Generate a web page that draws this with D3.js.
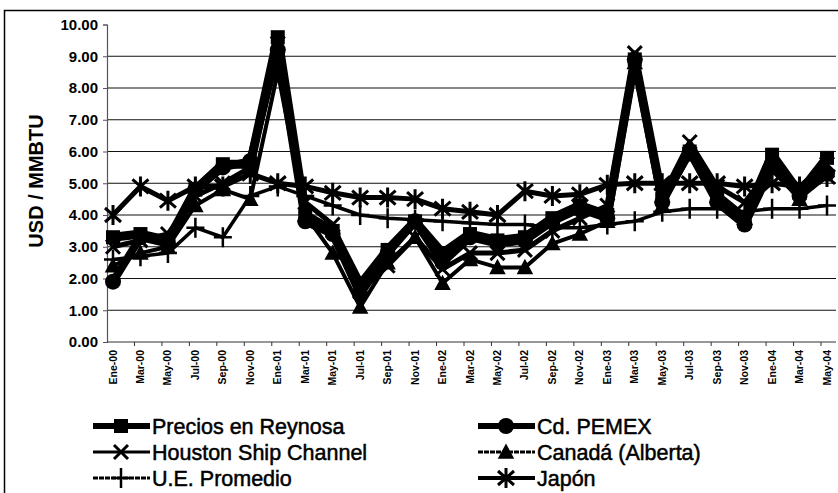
<!DOCTYPE html>
<html>
<head>
<meta charset="utf-8">
<script src="https://cdn.jsdelivr.net/npm/d3@7/dist/d3.min.js"></script>
<style>
  html, body { margin: 0; padding: 0; background: #fff; }
  svg { display: block; }
  text { font-family: "Liberation Sans", Arial, sans-serif; fill: #000; }
</style>
</head>
<body>
<svg id="chart" width="838" height="493"></svg>
<script>
// Bi-monthly categories, Ene-00 .. May-04
const months = ["Ene-00","Mar-00","May-00","Jul-00","Sep-00","Nov-00",
  "Ene-01","Mar-01","May-01","Jul-01","Sep-01","Nov-01",
  "Ene-02","Mar-02","May-02","Jul-02","Sep-02","Nov-02",
  "Ene-03","Mar-03","May-03","Jul-03","Sep-03","Nov-03",
  "Ene-04","Mar-04","May-04"];

// Natural gas prices, USD / MMBTU
const reynosa = [3.3, 3.4, 3.2, 4.8, 5.6, 5.6, 9.6, 4.0, 3.5, 1.8, 2.9, 3.8, 2.8, 3.4, 3.2, 3.3, 3.9, 4.3, 4.0, 8.9, 4.5, 6.0, 4.6, 3.9, 5.9, 4.7, 5.8];
const pemex   = [1.9, 3.3, 3.1, 4.8, 5.5, 5.7, 9.2, 3.8, 3.4, 1.5, 2.8, 3.8, 2.5, 3.3, 3.1, 3.2, 3.8, 4.2, 3.9, 8.9, 4.4, 6.0, 4.4, 3.7, 5.5, 4.6, 5.3];
const houston = [3.0, 3.2, 3.4, 4.6, 5.0, 5.5, 9.4, 4.4, 3.7, 1.6, 2.4, 3.3, 2.3, 2.8, 2.8, 2.9, 3.5, 3.9, 4.3, 9.1, 4.6, 6.3, 4.9, 4.4, 5.5, 4.9, 5.6];
const canada  = [2.4, 2.8, 3.0, 4.3, 4.8, 4.5, 8.5, 4.0, 2.8, 1.1, 2.5, 3.3, 1.85, 2.6, 2.35, 2.35, 3.1, 3.4, 3.8, 8.8, 4.3, 5.9, 4.6, 3.9, 5.5, 4.5, 5.4];
const ue      = [2.6, 2.7, 2.8, 3.6, 3.3, 4.6, 4.9, 4.6, 4.3, 4.0, 3.9, 3.85, 3.8, 3.75, 3.7, 3.7, 3.6, 3.6, 3.7, 3.8, 4.1, 4.2, 4.2, 4.1, 4.2, 4.2, 4.3];
const japon   = [4.0, 4.9, 4.45, 4.9, 4.9, 5.3, 5.0, 4.9, 4.7, 4.55, 4.55, 4.5, 4.2, 4.1, 4.0, 4.75, 4.6, 4.65, 4.95, 5.0, 5.0, 5.0, 5.0, 4.9, 5.0, 4.9, 5.2];

const yTicks = [0, 1, 2, 3, 4, 5, 6, 7, 8, 9, 10];

const seriesNames = ["Precios en Reynosa", "Cd. PEMEX", "Houston Ship Channel",
  "Canadá (Alberta)", "U.E. Promedio", "Japón"];

const svg = d3.select("#chart");

// Outer chart frame
svg.append("path").attr("d", "M4.5,493 V10.5 H838")
  .attr("fill", "none").attr("stroke", "#000").attr("stroke-width", 1.5);

const plot = { left: 107, right: 836, top: 24.5, bottom: 342 };

const x = d3.scalePoint().domain(months).range([113, 827]);
const y = d3.scaleLinear().domain([0, 10]).range([plot.bottom, plot.top]);

// Horizontal gridlines (none at the top value)
svg.append("g").selectAll("line").data(yTicks.filter(d => d > 0 && d < 10)).join("line")
  .attr("x1", plot.left).attr("x2", plot.right)
  .attr("y1", d => y(d)).attr("y2", d => y(d))
  .attr("stroke", "#111").attr("stroke-width", 1.2);

// Y axis
const yAxis = svg.append("g").attr("transform", `translate(${plot.left},0)`)
  .call(d3.axisLeft(y).tickValues(yTicks).tickFormat(d3.format(".2f")).tickSize(4).tickPadding(5));
yAxis.select(".domain").attr("stroke", "#555").attr("stroke-width", 1.2);
yAxis.selectAll(".tick line").attr("stroke", "#555");
yAxis.selectAll("text").attr("font-size", 15).attr("font-weight", "bold")
  .style("font-family", "'Liberation Sans', Arial, sans-serif");

// X axis baseline and ticks
const step = x.step();
svg.append("line").attr("x1", plot.left).attr("x2", plot.right)
  .attr("y1", plot.bottom).attr("y2", plot.bottom)
  .attr("stroke", "#333").attr("stroke-width", 1.2);
svg.append("g").selectAll("line").data(months).join("line")
  .attr("x1", d => x(d) - 6 + step).attr("x2", d => x(d) - 6 + step)
  .attr("y1", plot.bottom).attr("y2", plot.bottom + 4)
  .attr("stroke", "#333");

// Rotated category labels
svg.append("g").selectAll("text").data(months).join("text")
  .attr("transform", d => `translate(${x(d) + 3.5},${plot.bottom + 8}) rotate(-90)`)
  .attr("text-anchor", "end")
  .attr("font-size", 10.5).attr("font-weight", "bold")
  .text(d => d);

// Y axis title
svg.append("text")
  .attr("transform", "translate(43,181) rotate(-90)")
  .attr("text-anchor", "middle")
  .attr("font-size", 20).attr("font-weight", "bold")
  .text("USD / MMBTU");

// Marker shapes
function drawMarker(g, kind, cx, cy) {
  if (kind === "square") {
    g.append("rect").attr("x", cx - 7).attr("y", cy - 7).attr("width", 14).attr("height", 14).attr("fill", "#000");
  } else if (kind === "circle") {
    g.append("circle").attr("cx", cx).attr("cy", cy).attr("r", 8).attr("fill", "#000");
  } else if (kind === "x") {
    g.append("path").attr("d", `M${cx-7},${cy-7}L${cx+7},${cy+7}M${cx-7},${cy+7}L${cx+7},${cy-7}`)
      .attr("stroke", "#000").attr("stroke-width", 3).attr("fill", "none");
  } else if (kind === "triangle") {
    g.append("path").attr("d", `M${cx},${cy-7}L${cx+7},${cy+6}L${cx-7},${cy+6}Z`)
      .attr("fill", "#000").attr("stroke", "#000").attr("stroke-width", 1.5);
  } else if (kind === "plus") {
    g.append("path").attr("d", `M${cx-9},${cy}L${cx+9},${cy}M${cx},${cy-10}L${cx},${cy+10}`)
      .attr("stroke", "#000").attr("stroke-width", 2.5).attr("fill", "none");
  } else if (kind === "star") {
    g.append("path").attr("d", `M${cx-8},${cy-7}L${cx+8},${cy+7}M${cx-8},${cy+7}L${cx+8},${cy-7}M${cx},${cy-10}L${cx},${cy+10}`)
      .attr("stroke", "#000").attr("stroke-width", 3).attr("fill", "none");
  }
}

const series = [
  { name: seriesNames[0], values: reynosa, width: 9,   marker: "square" },
  { name: seriesNames[1], values: pemex,   width: 8,   marker: "circle" },
  { name: seriesNames[2], values: houston, width: 5,   marker: "x" },
  { name: seriesNames[3], values: canada,  width: 4,   marker: "triangle" },
  { name: seriesNames[4], values: ue,      width: 3.5, marker: "plus" },
  { name: seriesNames[5], values: japon,   width: 5,   marker: "star" }
];

const line = d3.line().x((d, i) => x(months[i])).y(d => y(d));

const gSeries = svg.append("g");
series.forEach(s => {
  gSeries.append("path").datum(s.values)
    .attr("d", line)
    .attr("fill", "none").attr("stroke", "#000")
    .attr("stroke-width", s.width).attr("stroke-linejoin", "round");
  const gm = gSeries.append("g");
  s.values.forEach((v, i) => drawMarker(gm, s.marker, x(months[i]), y(v)));
});

// Legend: two columns, three rows
const legendPos = [
  { x: 93, y: 426 }, { x: 478, y: 426 },
  { x: 93, y: 452 }, { x: 478, y: 452 },
  { x: 93, y: 478 }, { x: 478, y: 478 }
];
const legendStyle = [
  { width: 6, dash: null }, { width: 6, dash: null },
  { width: 3, dash: null }, { width: 3, dash: "5,1" },
  { width: 3, dash: "5,1" }, { width: 4, dash: null }
];
const lg = svg.append("g");
series.forEach((s, i) => {
  const p = legendPos[i];
  lg.append("line").attr("x1", p.x).attr("x2", p.x + 57)
    .attr("y1", p.y).attr("y2", p.y)
    .attr("stroke", "#000").attr("stroke-width", legendStyle[i].width)
    .attr("stroke-dasharray", legendStyle[i].dash);
  drawMarker(lg, s.marker, p.x + 28, p.y);
  lg.append("text").attr("x", p.x + 59).attr("y", p.y)
    .attr("dy", "0.36em").attr("font-size", 21.5)
    .attr("stroke", "#000").attr("stroke-width", 0.5)
    .text(s.name);
});
</script>
</body>
</html>
